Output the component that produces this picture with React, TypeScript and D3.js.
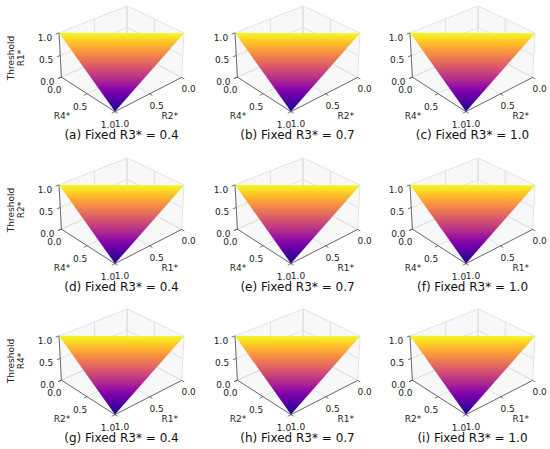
import React from "react";
import * as d3 from "d3";

const W = 550;
const H = 449;

// ---------- data ----------
const panelLetters = ["a", "b", "c", "d", "e", "f", "g", "h", "i"];
const fixedR3 = [0.4, 0.7, 1.0];
const rowThresholdLabels = ["R1*", "R2*", "R4*"];
const rowLeftAxisLabels = ["R4*", "R4*", "R2*"];
const rowRightAxisLabels = ["R2*", "R1*", "R1*"];
const axisTicks = [0.0, 0.5, 1.0];
// surface corners (right-axis value, left-axis value, threshold)
const cornerRight = [1, 0, 1];
const cornerLeft = [0, 1, 1];
const cornerThreshold = [1, 1, 0];

// ---------- layout / camera ----------
const cam = { elev: 30, azim: 48, dist: 8, lx: 1.1, ly: 1.0, lz: 0.62 };
const colOffsets = [0, 176, 351];
const rowOffsets = [0, 152, 303];
const anchor = { left: 59, right: 184, top: 33 };
const FONT = "DejaVu Sans, Verdana, sans-serif";

type P3 = [number, number, number];
const dot = (a: number[], b: number[]) => a[0] * b[0] + a[1] * b[1] + a[2] * b[2];
const cross = (a: number[], b: number[]) => [
  a[1] * b[2] - a[2] * b[1],
  a[2] * b[0] - a[0] * b[2],
  a[0] * b[1] - a[1] * b[0],
];

function makeProjector(dx: number, dy: number) {
  const E = (cam.elev * Math.PI) / 180;
  const A = (cam.azim * Math.PI) / 180;
  const xs = d3.scaleLinear().domain([0, 1]).range([0, cam.lx]);
  const ys = d3.scaleLinear().domain([0, 1]).range([0, cam.ly]);
  const zs = d3.scaleLinear().domain([0, 1]).range([0, cam.lz]);
  const C = [cam.lx / 2, cam.ly / 2, cam.lz / 2];
  const dir = [Math.cos(E) * Math.cos(A), Math.cos(E) * Math.sin(A), Math.sin(E)];
  const eye = [C[0] + cam.dist * dir[0], C[1] + cam.dist * dir[1], C[2] + cam.dist * dir[2]];
  const f = [-dir[0], -dir[1], -dir[2]];
  const r = [-Math.sin(A), Math.cos(A), 0];
  const u = cross(r, f);
  const raw = (x: number, y: number, z: number) => {
    const v = [xs(x) - eye[0], ys(y) - eye[1], zs(z) - eye[2]];
    const depth = dot(v, f);
    return [dot(v, r) / depth, dot(v, u) / depth];
  };
  const pL = raw(1, 0, 1);
  const pR = raw(0, 1, 1);
  const K = (anchor.right - anchor.left) / (pR[0] - pL[0]);
  const ox = anchor.left + dx - K * pL[0];
  const oy = anchor.top + dy + (K * (pL[1] + pR[1])) / 2;
  return (x: number, y: number, z: number): [number, number] => {
    const s = raw(x, y, z);
    return [ox + K * s[0], oy - K * s[1]];
  };
}

const color = d3.scaleSequential(d3.interpolatePlasma).domain([0, 1]);
const lineGen = d3.line();

function Panel({ row, col }: { row: number; col: number }) {
  const dx = colOffsets[col];
  const dy = rowOffsets[row];
  const proj = makeProjector(dx, dy);
  const poly = (pts: P3[]) => lineGen(pts.map((p) => proj(p[0], p[1], p[2]))) + "Z";
  const seg = (a: P3, b: P3) => lineGen([proj(...a), proj(...b)]) || "";
  const idx = row * 3 + col;

  const panes: P3[][] = [
    [[0, 0, 0], [1, 0, 0], [1, 1, 0], [0, 1, 0]],
    [[0, 0, 0], [1, 0, 0], [1, 0, 1], [0, 0, 1]],
    [[0, 0, 0], [0, 1, 0], [0, 1, 1], [0, 0, 1]],
  ];

  const grid: string[] = [];
  axisTicks.forEach((t) => {
    grid.push(seg([t, 0, 0], [t, 0, 1]));
    grid.push(seg([t, 0, 0], [t, 1, 0]));
    grid.push(seg([0, t, 0], [0, t, 1]));
    grid.push(seg([0, t, 0], [1, t, 0]));
    grid.push(seg([0, 0, t], [1, 0, t]));
    grid.push(seg([0, 0, t], [0, 1, t]));
  });

  // surface triangle, coloured by threshold through a gradient whose stops
  // follow the projected iso-threshold lines
  const apex: P3 = [cornerRight[2], cornerLeft[2], cornerThreshold[2]];
  const cA: P3 = [cornerRight[0], cornerLeft[0], cornerThreshold[0]];
  const cB: P3 = [cornerRight[1], cornerLeft[1], cornerThreshold[1]];
  const lerp = (a: P3, b: P3, t: number): P3 => [
    a[0] + (b[0] - a[0]) * t,
    a[1] + (b[1] - a[1]) * t,
    a[2] + (b[2] - a[2]) * t,
  ];
  const yTop = proj(...cA)[1];
  const yBot = proj(...apex)[1];
  // from the top edge (offset 0) down to the apex (offset 1)
  const stops = d3.range(0, 41).map((i) => {
    const pt = lerp(cA, apex, i / 40);
    const p = proj(...pt);
    return { off: Math.max(0, Math.min(1, (p[1] - yTop) / (yBot - yTop))), c: color(pt[2]) };
  });
  const gradId = `surf${idx}`;

  const axisColor = "#3a3a3a";
  const tickLen = 0.045;
  const fs = 9;

  const zTicks = axisTicks.map((t) => ({ t, p: proj(1, 0, t), q: proj(1 + tickLen, 0, t) }));
  const leftTicks = axisTicks.map((t) => ({ t, p: proj(1, t, 0), q: proj(1 + tickLen, t, 0) }));
  const rightTicks = axisTicks.map((t) => ({ t, p: proj(t, 1, 0), q: proj(t, 1 + tickLen, 0) }));
  const leftMid = proj(1, 0.5, 0);
  const rightMid = proj(0.5, 1, 0);
  const fmt = d3.format(".1f");

  return (
    <g>
      <defs>
        <linearGradient id={gradId} gradientUnits="userSpaceOnUse" x1={0} y1={yTop} x2={0} y2={yBot}>
          {stops.map((s, i) => (
            <stop key={i} offset={s.off} stopColor={s.c} />
          ))}
        </linearGradient>
      </defs>
      {panes.map((p, i) => (
        <path key={"pane" + i} d={poly(p)} fill="#f2f2f2" fillOpacity={0.5} stroke="none" />
      ))}
      {grid.map((d, i) => (
        <path key={"g" + i} d={d} stroke="#dcdcdc" strokeWidth={0.8} fill="none" />
      ))}
      <path d={seg([1, 0, 0], [1, 0, 1])} stroke={axisColor} strokeWidth={0.7} />
      <path d={seg([1, 0, 0], [1, 1, 0])} stroke={axisColor} strokeWidth={0.7} />
      <path d={seg([1, 1, 0], [0, 1, 0])} stroke={axisColor} strokeWidth={0.7} />
      {zTicks.map(({ t, p, q }) => (
        <g key={"zt" + t}>
          <line x1={p[0]} y1={p[1]} x2={q[0]} y2={q[1]} stroke={axisColor} strokeWidth={0.7} />
          <text x={p[0] - 14} y={p[1] + 5} fontSize={fs} fontFamily={FONT} textAnchor="middle" dominantBaseline="central" fill="#222">
            {fmt(t)}
          </text>
        </g>
      ))}
      {leftTicks.map(({ t, p, q }) => (
        <g key={"lt" + t}>
          <line x1={p[0]} y1={p[1]} x2={q[0]} y2={q[1]} stroke={axisColor} strokeWidth={0.7} />
          <text x={p[0] - 7} y={p[1] + 13} fontSize={fs} fontFamily={FONT} textAnchor="middle" dominantBaseline="central" fill="#222">
            {fmt(t)}
          </text>
        </g>
      ))}
      {rightTicks.map(({ t, p, q }) => (
        <g key={"rt" + t}>
          <line x1={p[0]} y1={p[1]} x2={q[0]} y2={q[1]} stroke={axisColor} strokeWidth={0.7} />
          <text x={p[0] + 7} y={p[1] + 12} fontSize={fs} fontFamily={FONT} textAnchor="middle" dominantBaseline="central" fill="#222">
            {fmt(t)}
          </text>
        </g>
      ))}
      <text x={leftMid[0] - 25} y={leftMid[1] + 22} fontSize={fs} fontFamily={FONT} textAnchor="middle" dominantBaseline="central" fill="#222">
        {rowLeftAxisLabels[row]}
      </text>
      <text x={rightMid[0] + 20} y={rightMid[1] + 22} fontSize={fs} fontFamily={FONT} textAnchor="middle" dominantBaseline="central" fill="#222">
        {rowRightAxisLabels[row]}
      </text>
      <path d={poly([cA, cB, apex])} fill={`url(#${gradId})`} stroke="none" />
      <text x={121.5 + dx} y={139 + dy} fontSize={12} fontFamily={FONT} textAnchor="middle" fill="#111">
        {`(${panelLetters[idx]}) Fixed R3* = ${fmt(fixedR3[col])}`}
      </text>
    </g>
  );
}

export default function App() {
  return (
    <svg
      width={W}
      height={H}
      viewBox={`0 0 ${W} ${H}`}
      style={{ position: "absolute", left: 0, top: 0, display: "block", background: "#fff" }}
    >
      <rect x={0} y={0} width={W} height={H} fill="#fff" />
      {[0, 1, 2].map((row) => [0, 1, 2].map((col) => <Panel key={`${row}-${col}`} row={row} col={col} />))}
      {[0, 1, 2].map((row) => (
        <g key={"zl" + row} transform={`translate(16, ${58 + rowOffsets[row]}) rotate(-90)`}>
          <text x={0} y={-5} fontSize={9} fontFamily={FONT} textAnchor="middle" dominantBaseline="central" fill="#222">
            Threshold
          </text>
          <text x={0} y={5} fontSize={9} fontFamily={FONT} textAnchor="middle" dominantBaseline="central" fill="#222">
            {rowThresholdLabels[row]}
          </text>
        </g>
      ))}
    </svg>
  );
}
